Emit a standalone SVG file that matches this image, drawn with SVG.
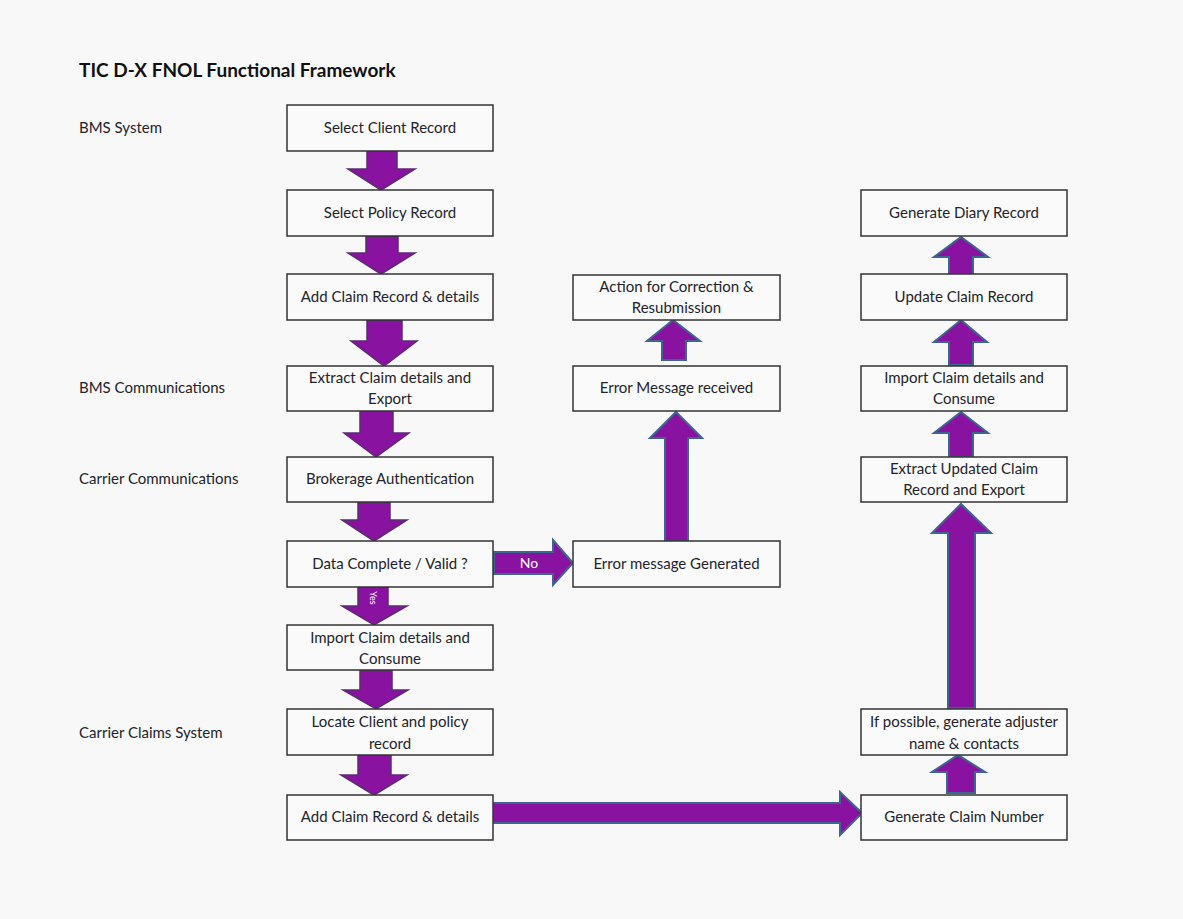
<svg xmlns="http://www.w3.org/2000/svg" width="1183" height="919" viewBox="0 0 1183 919">
<style>
.bg{fill:#f8f8f8}
.box{fill:#fafafa;stroke:#333;stroke-width:1.5}
.t{font-family:Lato,"Open Sans","Liberation Sans",sans-serif;font-size:15px;fill:#23232c;text-anchor:middle}
.lab{font-family:Lato,"Open Sans","Liberation Sans",sans-serif;font-size:15px;fill:#23232c}
.title{font-family:Lato,"Open Sans","Liberation Sans",sans-serif;font-size:19px;font-weight:bold;fill:#111}
.dn{fill:#8a12a0;stroke:#5a2d70;stroke-width:1.5;stroke-linejoin:miter}
.up{fill:#8a12a0;stroke:#3d6592;stroke-width:2;stroke-linejoin:miter}
.w{font-family:Lato,"Open Sans","Liberation Sans",sans-serif;font-size:14px;fill:#fff;text-anchor:middle}
</style>
<rect class="bg" x="0" y="0" width="1183" height="919"/>
<text class="title" x="79" y="77">TIC D-X FNOL Functional Framework</text>
<g id="lanes">
<text class="lab" x="79" y="133">BMS System</text>
<text class="lab" x="79" y="393">BMS Communications</text>
<text class="lab" x="79" y="484">Carrier Communications</text>
<text class="lab" x="79" y="738">Carrier Claims System</text>
</g>
<g id="connectors">
<polygon class="dn" points="367,151 397,151 397,169 415,169 381,190 348,169 367,169"/>
<polygon class="dn" points="366,236 398,236 398,253 415,253 381,274 348,253 366,253"/>
<polygon class="dn" points="367,320 402,320 402,341 417,341 384,366 351,341 367,341"/>
<polygon class="dn" points="360,411 393,411 393,433 409,433 376,457 344,433 360,433"/>
<polygon class="dn" points="358,502 390,502 390,520 407,520 374,541 342,520 358,520"/>
<polygon class="dn" points="358,587 388,587 388,606 407,606 374,625 342,606 358,606"/>
<text class="w" style="font-size:9px" transform="translate(373,598) rotate(90)" y="3">Yes</text>
<polygon class="dn" points="360,670 392,670 392,690 408,690 376,709 343,690 360,690"/>
<polygon class="dn" points="358,755 391,755 391,775 407,775 374,795 341,775 358,775"/>
<polygon class="up" points="494,552 553,552 553,540 573,563 553,585 553,574 494,574"/>
<text class="w" x="529" y="568">No</text>
<polygon class="up" points="665,541 665,438 650,438 676,412 702,438 688,438 688,541"/>
<polygon class="up" points="662,360 662,341 647,341 673,320 700,341 686,341 686,360"/>
<polygon class="up" points="493,803 840,803 840,792 862,813 840,835 840,823 493,823"/>
<polygon class="up" points="947,793 947,772 932,772 958,755 985,772 975,772 975,793"/>
<polygon class="up" points="948,708 948,533 932,533 961,504 991,533 975,533 975,708"/>
<polygon class="up" points="949,457 949,433 934,433 961,412 988,433 973,433 973,457"/>
<polygon class="up" points="949,365 949,342 934,342 961,320 987,342 973,342 973,365"/>
<polygon class="up" points="949,274 949,257 934,257 961,237 988,257 973,257 973,274"/>
</g>
<g id="n1"><rect class="box" x="287" y="105" width="206" height="46"/><text class="t" x="390" y="133">Select Client Record</text></g>
<g id="n2"><rect class="box" x="287" y="190" width="206" height="46"/><text class="t" x="390" y="218">Select Policy Record</text></g>
<g id="n3"><rect class="box" x="287" y="274" width="206" height="46"/><text class="t" x="390" y="302">Add Claim Record &amp; details</text></g>
<g id="n4"><rect class="box" x="287" y="366" width="206" height="45"/><text class="t" x="390" y="383">Extract Claim details and</text><text class="t" x="390" y="404">Export</text></g>
<g id="n5"><rect class="box" x="287" y="457" width="206" height="45"/><text class="t" x="390" y="484">Brokerage Authentication</text></g>
<g id="n6"><rect class="box" x="287" y="541" width="206" height="46"/><text class="t" x="390" y="569">Data Complete / Valid ?</text></g>
<g id="n7"><rect class="box" x="287" y="625" width="206" height="45"/><text class="t" x="390" y="643">Import Claim details and</text><text class="t" x="390" y="664">Consume</text></g>
<g id="n8"><rect class="box" x="287" y="709" width="206" height="46"/><text class="t" x="390" y="727">Locate Client and policy</text><text class="t" x="390" y="749">record</text></g>
<g id="n9"><rect class="box" x="287" y="795" width="206" height="45"/><text class="t" x="390" y="822">Add Claim Record &amp; details</text></g>
<g id="m1"><rect class="box" x="573" y="275" width="207" height="45"/><text class="t" x="676.5" y="292">Action for Correction &amp;</text><text class="t" x="676.5" y="313">Resubmission</text></g>
<g id="m2"><rect class="box" x="573" y="366" width="207" height="45"/><text class="t" x="676.5" y="393">Error Message received</text></g>
<g id="m3"><rect class="box" x="573" y="541" width="207" height="46"/><text class="t" x="676.5" y="569">Error message Generated</text></g>
<g id="r1"><rect class="box" x="861" y="190" width="206" height="46"/><text class="t" x="964" y="218">Generate Diary Record</text></g>
<g id="r2"><rect class="box" x="861" y="274" width="206" height="46"/><text class="t" x="964" y="302">Update Claim Record</text></g>
<g id="r3"><rect class="box" x="861" y="366" width="206" height="45"/><text class="t" x="964" y="383">Import Claim details and</text><text class="t" x="964" y="404">Consume</text></g>
<g id="r4"><rect class="box" x="861" y="457" width="206" height="45"/><text class="t" x="964" y="474">Extract Updated Claim</text><text class="t" x="964" y="495">Record and Export</text></g>
<g id="r5"><rect class="box" x="861" y="709" width="206" height="46"/><text class="t" x="964" y="727">If possible, generate adjuster</text><text class="t" x="964" y="749">name &amp; contacts</text></g>
<g id="r6"><rect class="box" x="861" y="795" width="206" height="45"/><text class="t" x="964" y="822">Generate Claim Number</text></g>
</svg>
